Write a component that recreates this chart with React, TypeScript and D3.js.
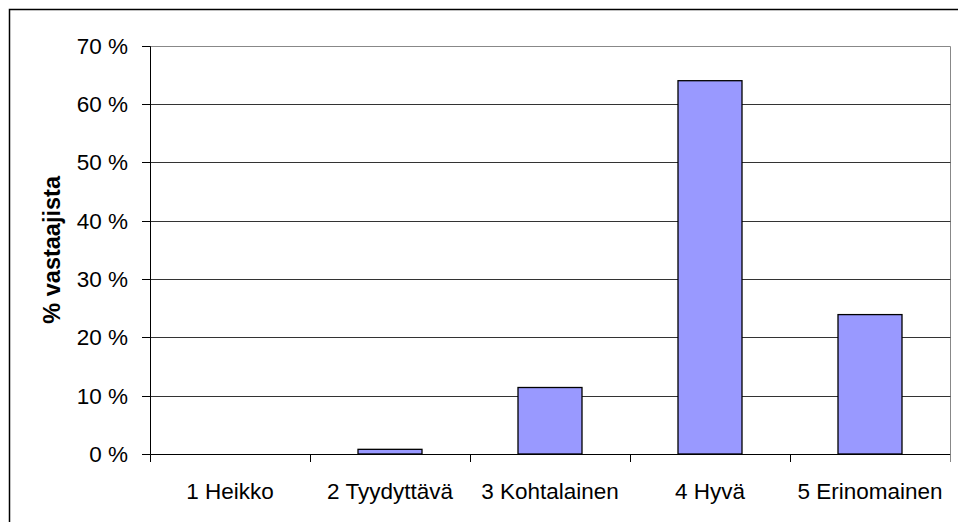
import React from "react";
import * as d3 from "d3";

const categories = ["1 Heikko", "2 Tyydyttävä", "3 Kohtalainen", "4 Hyvä", "5 Erinomainen"];
const values = [0, 0.8, 11.4, 64.0, 23.9];
const yTicks = [0, 10, 20, 30, 40, 50, 60, 70];
const yTitle = "% vastaajista";

export default function App() {
  const W = 958, H = 522;
  const left = 150, right = 950, top = 45.7, bottom = 454;
  const x = d3.scaleBand<string>().domain(categories).range([left, right]).paddingInner(0.6).paddingOuter(0.3);
  const xEdges = d3.scaleLinear().domain([0, categories.length]).range([left, right]);
  const y = d3.scaleLinear().domain([0, 70]).range([bottom, top]);
  const font = "'Liberation Sans', Arial, sans-serif";
  const snap = (v: number) => Math.round(v) + 0.5;
  return (
    <svg width={W} height={H} style={{ position: "absolute", left: 0, top: 0, background: "#fff" }}>
      <rect x={9.5} y={9.5} width={W + 20} height={H + 20} fill="white" stroke="#000" strokeWidth={1.5} />
      <line x1={left} x2={snap(right)} y1={snap(top)} y2={snap(top)} stroke="#888" />
      <line x1={snap(right)} x2={snap(right)} y1={snap(top)} y2={snap(bottom)} stroke="#888" />
      {yTicks.slice(1, -1).map((t) => (
        <line key={t} x1={left} x2={snap(right)} y1={snap(y(t))} y2={snap(y(t))} stroke="#333" />
      ))}
      {categories.map((c, i) => (
        <rect key={c} x={x(c)!} y={y(values[i])} width={x.bandwidth()} height={bottom - y(values[i])}
          fill="#9999FF" stroke="#000" strokeWidth={1.3} style={{ display: values[i] > 0 ? undefined : "none" }} />
      ))}
      <line x1={snap(left)} x2={snap(left)} y1={snap(top)} y2={snap(bottom)} stroke="#000" />
      <line x1={snap(left)} x2={snap(right)} y1={snap(bottom)} y2={snap(bottom)} stroke="#000" />
      {yTicks.map((t) => (
        <g key={t}>
          <line x1={142} x2={snap(left)} y1={snap(y(t))} y2={snap(y(t))} stroke="#000" />
          <text x={128} y={y(t)} dy="0.35em" textAnchor="end" fontFamily={font} fontSize={22.5} fill="#000">
            {t} %
          </text>
        </g>
      ))}
      {d3.range(categories.length + 1).map((i) => (
        <line key={i} x1={snap(xEdges(i))} x2={snap(xEdges(i))} y1={snap(bottom)} y2={bottom + 8} stroke={i === categories.length ? "#888" : "#000"} />
      ))}
      {categories.map((c) => (
        <text key={c} x={x(c)! + x.bandwidth() / 2} y={499} textAnchor="middle" fontFamily={font} fontSize={22.5} fill="#000">
          {c}
        </text>
      ))}
      <text transform={`translate(60, ${(top + bottom) / 2}) rotate(-90)`} textAnchor="middle" fontFamily={font}
        fontSize={23.5} fontWeight="bold" fill="#000">
        {yTitle}
      </text>
    </svg>
  );
}
